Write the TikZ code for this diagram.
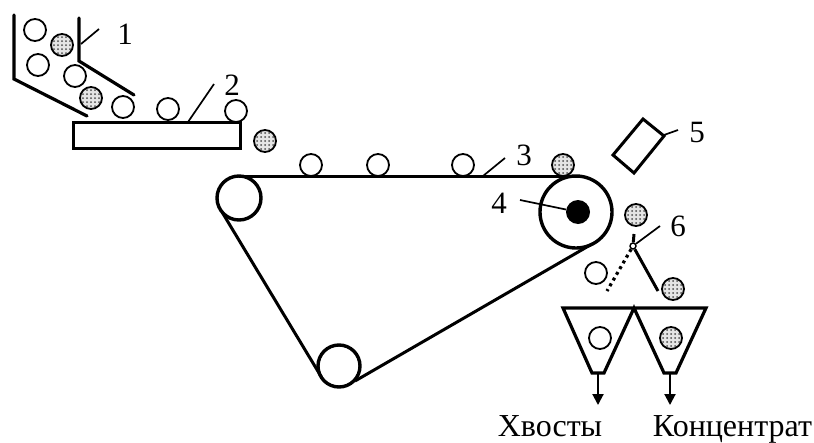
\documentclass[tikz,border=0pt]{standalone}
\usepackage{fontspec}
\setmainfont{Liberation Serif}
\usetikzlibrary{arrows.meta,calc}
\tikzset{
  ball/.style={circle,draw=black,line width=1.8pt,minimum size=22pt,inner sep=0pt,fill=white},
  oreball/.style={ball,fill=black!10,path picture={
    \foreach \i in {-2,...,2}\foreach \j in {-2,...,2}{
      \fill[black!70] ($(path picture bounding box.center)+(\i*4pt,\j*4pt)$) circle (1pt);}}},
  wall/.style={line width=3.2pt,line cap=round,line join=miter},
  thinline/.style={line width=1.7pt},
  num/.style={font=\fontsize{31}{31}\selectfont,inner sep=0pt},
  capt/.style={font=\fontsize{32}{32}\selectfont,inner sep=0pt,anchor=base},
  pulley/.style={circle,draw=black,line width=3.4pt,inner sep=0pt,fill=white},
  flow/.style={line width=2pt,-{Triangle[length=11pt,width=11pt]}}
}
\begin{document}
\begin{tikzpicture}[x=1pt,y=-1pt]
\useasboundingbox (0,0) rectangle (814,442);
% hopper
\draw[wall] (14,15) -- (14,79) -- (87,116);
\draw[wall] (79,18) -- (79,61) -- (134,95);
\coordinate (l1a) at (81,44); \coordinate (l1b) at (99,29);
\draw[thinline] (l1a) -- (l1b);
\node[num] (n1) at (125,34) {1};
% feeder
\node[draw=black,line width=3.2pt,minimum width=167pt,minimum height=26pt,inner sep=0pt,anchor=north west] (feeder) at (72,121) {};
\coordinate (l2a) at (188,122); \coordinate (l2b) at (214,84);
\draw[thinline] (l2a) -- (l2b);
\node[num] (n2) at (232,85) {2};
% pulleys
\node[pulley,minimum size=44pt] (pl) at (239,198) {};
\node[pulley,minimum size=72pt] (pr) at (576,212) {};
\node[pulley,minimum size=42pt] (pb) at (339,366) {};
\coordinate (t1) at (239,176.5); \coordinate (t2) at (578,176.5);
\coordinate (lb1) at (222,212); \coordinate (lb2) at (322,378);
\coordinate (rb1) at (355,381); \coordinate (rb2) at (592,244);
\draw[line width=3pt] (t1) -- (t2);
\draw[line width=3pt] (lb1) -- (lb2);
\draw[line width=3pt] (rb1) -- (rb2);
% drive
\node[circle,fill=black,minimum size=24pt,inner sep=0pt] (axle) at (578,212) {};
\coordinate (l4) at (520,200);
\draw[thinline] (l4) -- (axle);
\node[num] (n4) at (499,203) {4};
% balls
\node[ball] (b1) at (35,30) {};
\node[oreball] (o1) at (62,45) {};
\node[ball] (b2) at (38,65) {};
\node[ball] (b3) at (75,76) {};
\node[oreball] (o2) at (91,98) {};
\node[ball] (b4) at (123,107) {};
\node[ball] (b5) at (168,109) {};
\node[ball] (b6) at (236,111) {};
\node[oreball] (o3) at (265,141) {};
\node[ball] (b7) at (311,165) {};
\node[ball] (b8) at (378,165) {};
\node[ball] (b9) at (463,165) {};
\node[oreball] (o4) at (563,165) {};
\coordinate (l3a) at (483,176); \coordinate (l3b) at (505,158);
\draw[thinline] (l3a) -- (l3b);
\node[num] (n3) at (524,155) {3};
% sensor
\draw[line width=3pt,line join=miter] (643,119) -- (664,136) -- (634,173) -- (613,155) -- cycle;
\coordinate (l5a) at (664,135); \coordinate (l5b) at (678,130);
\draw[thinline] (l5a) -- (l5b);
\node[num] (n5) at (697,132) {5};
% splitter
\node[oreball] (o5) at (636,215) {};
\node[circle,draw=black,line width=1.4pt,minimum size=6pt,inner sep=0pt] (piv) at (633,246) {};
\coordinate (st) at (634,234);
\draw[line width=3pt] (st) -- (piv);
\coordinate (l6) at (660,226);
\draw[thinline] (piv) -- (l6);
\node[num] (n6) at (678,226) {6};
\coordinate (flapR) at (658,291); \coordinate (flapL) at (607,291);
\draw[line width=3pt] (piv) -- (flapR);
\draw[line width=3.2pt,dash pattern=on 3pt off 3.6pt] (piv) -- (flapL);
\node[ball] (b10) at (596,273) {};
\node[oreball] (o6) at (673,289) {};
% bins
\draw[wall,line cap=butt,line join=miter] (563,308) -- (706,308) -- (676,373) -- (664,373) -- (634,308) -- (604,373) -- (592,373) -- cycle;
\node[ball] (b11) at (600,338) {};
\node[oreball] (o7) at (671,338) {};
\coordinate (a1) at (598,373); \coordinate (a1e) at (598,405);
\coordinate (a2) at (670,373); \coordinate (a2e) at (670,405);
\draw[flow] (a1) -- (a1e);
\draw[flow] (a2) -- (a2e);
\node[capt] (c1) at (550,436) {Хвосты};
\node[capt] (c2) at (732.5,436) {Концентрат};
\end{tikzpicture}
\end{document}
